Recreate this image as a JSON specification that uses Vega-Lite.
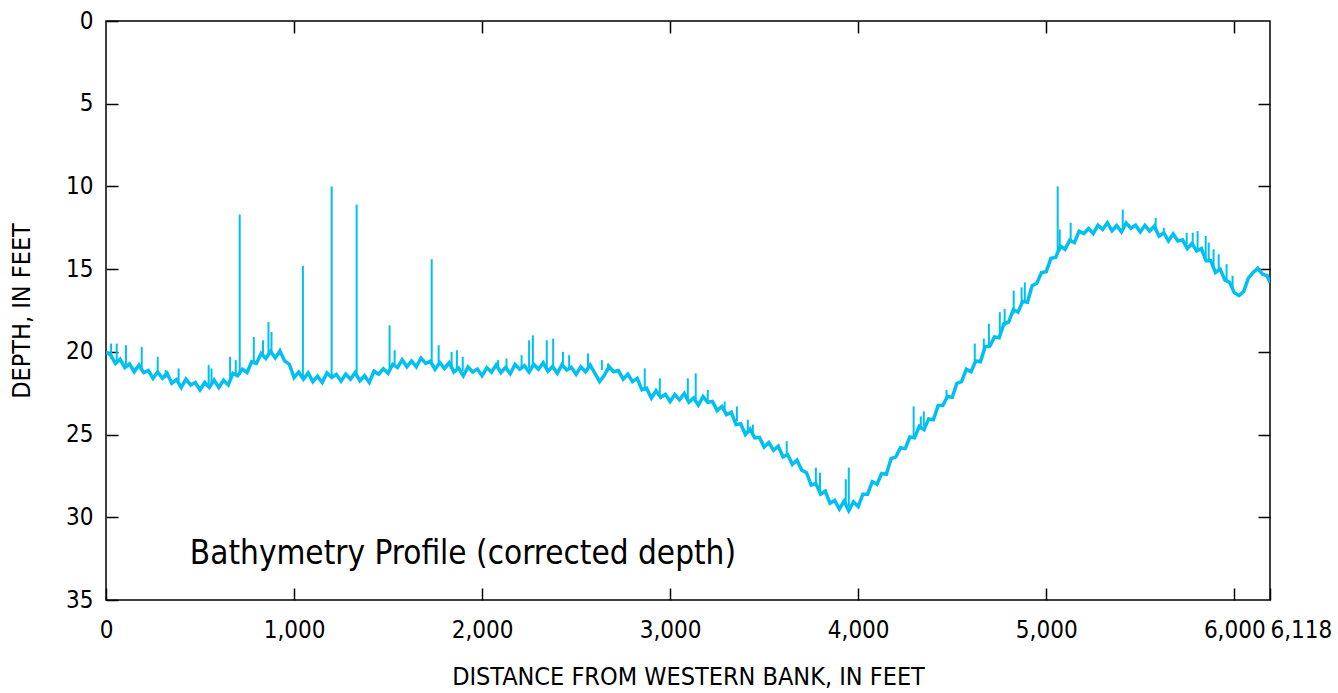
{
  "$schema": "https://vega.github.io/schema/vega-lite/v6.json",
  "width": 1164,
  "height": 579,
  "autosize": "none",
  "padding": {"left": 106, "top": 21, "right": 68, "bottom": 93},
  "background": "white",
  "config": {
    "view": {"stroke": "#000000", "strokeWidth": 1.5},
    "font": "DejaVu Sans Condensed, Liberation Sans, sans-serif",
    "axis": {
      "domain": false,
      "grid": false,
      "tickColor": "#000000",
      "tickWidth": 1.5,
      "tickSize": -12,
      "labelColor": "#000000",
      "labelFont": "DejaVu Sans Condensed, Liberation Sans, sans-serif",
      "labelFontSize": 24,
      "labelFontWeight": "normal",
      "titleColor": "#000000",
      "titleFont": "DejaVu Sans Condensed, Liberation Sans, sans-serif",
      "titleFontSize": 25,
      "titleFontWeight": "normal",
      "labelOverlap": false,
      "labelFlush": false
    }
  },
  "datasets": {
    "profile": [
      {"d":0,"z":20.0},{"d":25,"z":20.2},{"d":50,"z":20.7},{"d":75,"z":20.45},{"d":100,"z":20.95},
      {"d":125,"z":20.72},{"d":150,"z":21.2},{"d":175,"z":20.8},{"d":200,"z":21.25},{"d":225,"z":21.13},
      {"d":250,"z":21.6},{"d":275,"z":21.22},{"d":300,"z":21.6},{"d":325,"z":21.3},{"d":350,"z":21.9},
      {"d":375,"z":21.68},{"d":400,"z":22.15},{"d":425,"z":21.65},{"d":450,"z":22.0},{"d":475,"z":21.85},
      {"d":500,"z":22.3},{"d":525,"z":21.85},{"d":550,"z":22.15},{"d":575,"z":21.7},{"d":600,"z":22.15},
      {"d":625,"z":21.72},{"d":650,"z":22.0},{"d":675,"z":21.3},{"d":700,"z":21.45},{"d":725,"z":21.05},
      {"d":750,"z":21.25},{"d":775,"z":20.6},{"d":800,"z":20.7},{"d":825,"z":20.1},{"d":850,"z":20.4},
      {"d":875,"z":19.97},{"d":900,"z":20.37},{"d":925,"z":19.95},{"d":950,"z":20.55},{"d":975,"z":20.75},
      {"d":1000,"z":21.55},{"d":1025,"z":21.22},{"d":1050,"z":21.65},{"d":1075,"z":21.28},{"d":1100,"z":21.8},
      {"d":1125,"z":21.48},{"d":1150,"z":21.85},{"d":1175,"z":21.27},{"d":1200,"z":21.55},{"d":1225,"z":21.36},
      {"d":1250,"z":21.77},{"d":1275,"z":21.34},{"d":1300,"z":21.65},{"d":1325,"z":21.25},{"d":1350,"z":21.75},
      {"d":1375,"z":21.45},{"d":1400,"z":21.85},{"d":1425,"z":21.17},{"d":1450,"z":21.35},{"d":1475,"z":21.02},
      {"d":1500,"z":21.3},{"d":1525,"z":20.75},{"d":1550,"z":20.95},{"d":1575,"z":20.48},{"d":1600,"z":20.9},
      {"d":1625,"z":20.55},{"d":1650,"z":20.9},{"d":1675,"z":20.37},{"d":1700,"z":20.7},{"d":1725,"z":20.57},
      {"d":1750,"z":21.05},{"d":1775,"z":20.65},{"d":1800,"z":21.0},{"d":1825,"z":20.66},{"d":1850,"z":21.22},
      {"d":1875,"z":20.99},{"d":1900,"z":21.45},{"d":1925,"z":20.91},{"d":1950,"z":21.22},{"d":1975,"z":21.04},
      {"d":2000,"z":21.45},{"d":2025,"z":20.96},{"d":2050,"z":21.22},{"d":2075,"z":20.79},{"d":2100,"z":21.25},
      {"d":2125,"z":20.94},{"d":2150,"z":21.32},{"d":2175,"z":20.76},{"d":2200,"z":21.05},{"d":2225,"z":20.84},
      {"d":2250,"z":21.22},{"d":2275,"z":20.76},{"d":2300,"z":21.05},{"d":2325,"z":20.66},{"d":2350,"z":21.17},
      {"d":2375,"z":20.89},{"d":2400,"z":21.3},{"d":2425,"z":20.77},{"d":2450,"z":21.1},{"d":2475,"z":20.93},
      {"d":2500,"z":21.35},{"d":2525,"z":20.9},{"d":2550,"z":21.2},{"d":2575,"z":20.8},{"d":2600,"z":21.3},
      {"d":2625,"z":21.8},{"d":2650,"z":21.42},{"d":2675,"z":20.89},{"d":2700,"z":21.2},{"d":2725,"z":21.13},
      {"d":2750,"z":21.65},{"d":2775,"z":21.35},{"d":2800,"z":21.8},{"d":2825,"z":21.6},{"d":2850,"z":22.3},
      {"d":2875,"z":22.2},{"d":2900,"z":22.8},{"d":2925,"z":22.35},{"d":2950,"z":22.75},{"d":2975,"z":22.57},
      {"d":3000,"z":23.0},{"d":3025,"z":22.58},{"d":3050,"z":22.9},{"d":3075,"z":22.52},{"d":3100,"z":23.05},
      {"d":3125,"z":22.79},{"d":3150,"z":23.22},{"d":3175,"z":22.71},{"d":3200,"z":23.05},{"d":3225,"z":23.0},
      {"d":3250,"z":23.55},{"d":3275,"z":23.3},{"d":3300,"z":23.8},{"d":3325,"z":23.65},{"d":3350,"z":24.4},
      {"d":3375,"z":24.35},{"d":3400,"z":25.0},{"d":3425,"z":24.67},{"d":3450,"z":25.2},{"d":3475,"z":25.17},
      {"d":3500,"z":25.75},{"d":3525,"z":25.48},{"d":3550,"z":25.95},{"d":3575,"z":25.7},{"d":3600,"z":26.35},
      {"d":3625,"z":26.22},{"d":3650,"z":26.8},{"d":3675,"z":26.55},{"d":3700,"z":27.15},{"d":3725,"z":27.3},
      {"d":3750,"z":28.05},{"d":3775,"z":27.95},{"d":3800,"z":28.6},{"d":3825,"z":28.42},{"d":3850,"z":29.15},
      {"d":3875,"z":28.98},{"d":3900,"z":29.5},{"d":3925,"z":29.03},{"d":3950,"z":29.6},{"d":3975,"z":29.07},
      {"d":4000,"z":29.35},{"d":4025,"z":28.6},{"d":4050,"z":28.6},{"d":4075,"z":27.85},{"d":4100,"z":28.0},
      {"d":4125,"z":27.35},{"d":4150,"z":27.4},{"d":4175,"z":26.45},{"d":4200,"z":26.35},{"d":4225,"z":25.8},
      {"d":4250,"z":25.85},{"d":4275,"z":25.15},{"d":4300,"z":25.2},{"d":4325,"z":24.5},{"d":4350,"z":24.7},
      {"d":4375,"z":24.05},{"d":4400,"z":24.1},{"d":4425,"z":23.25},{"d":4450,"z":23.25},{"d":4475,"z":22.7},
      {"d":4500,"z":22.75},{"d":4525,"z":21.9},{"d":4550,"z":21.8},{"d":4575,"z":21.05},{"d":4600,"z":21.2},
      {"d":4625,"z":20.55},{"d":4650,"z":20.6},{"d":4675,"z":19.7},{"d":4700,"z":19.65},{"d":4725,"z":19.1},
      {"d":4750,"z":19.15},{"d":4775,"z":18.3},{"d":4800,"z":18.2},{"d":4825,"z":17.45},{"d":4850,"z":17.6},
      {"d":4875,"z":16.95},{"d":4900,"z":17.0},{"d":4925,"z":16.0},{"d":4950,"z":15.85},{"d":4975,"z":15.2},
      {"d":5000,"z":15.15},{"d":5025,"z":14.35},{"d":5050,"z":14.3},{"d":5075,"z":13.6},{"d":5100,"z":13.8},
      {"d":5125,"z":13.25},{"d":5150,"z":13.4},{"d":5175,"z":12.7},{"d":5200,"z":12.85},{"d":5225,"z":12.55},
      {"d":5250,"z":12.85},{"d":5275,"z":12.35},{"d":5300,"z":12.6},{"d":5325,"z":12.19},{"d":5350,"z":12.68},
      {"d":5375,"z":12.36},{"d":5400,"z":12.75},{"d":5425,"z":12.21},{"d":5450,"z":12.52},{"d":5475,"z":12.34},
      {"d":5500,"z":12.75},{"d":5525,"z":12.35},{"d":5550,"z":12.7},{"d":5575,"z":12.4},{"d":5600,"z":13.0},
      {"d":5625,"z":12.8},{"d":5650,"z":13.3},{"d":5675,"z":12.87},{"d":5700,"z":13.3},{"d":5725,"z":13.23},
      {"d":5750,"z":13.75},{"d":5775,"z":13.45},{"d":5800,"z":13.9},{"d":5825,"z":13.75},{"d":5850,"z":14.5},
      {"d":5875,"z":14.5},{"d":5900,"z":15.2},{"d":5925,"z":15.0},{"d":5950,"z":15.65},{"d":5975,"z":15.8},
      {"d":6000,"z":16.42},{"d":6025,"z":16.6},{"d":6050,"z":16.35},{"d":6075,"z":15.55},{"d":6100,"z":15.2},
      {"d":6125,"z":14.95},{"d":6150,"z":15.3},{"d":6175,"z":15.4},{"d":6190,"z":15.8}
    ],
    "spikes": [
      {"d":27,"tip":19.5,"base":20.4},{"d":57,"tip":19.5,"base":20.6},{"d":106,"tip":19.6,"base":20.8},
      {"d":190,"tip":19.7,"base":21.2},{"d":275,"tip":20.3,"base":21.4},{"d":317,"tip":21.1,"base":21.6},
      {"d":386,"tip":21.0,"base":21.8},{"d":546,"tip":20.8,"base":22.05},{"d":561,"tip":21.0,"base":22.0},
      {"d":660,"tip":20.3,"base":21.6},{"d":690,"tip":20.5,"base":21.4},{"d":711,"tip":11.7,"base":21.4},
      {"d":786,"tip":19.1,"base":20.7},{"d":835,"tip":19.3,"base":20.3},{"d":864,"tip":18.2,"base":20.1},
      {"d":880,"tip":18.8,"base":20.1},{"d":925,"tip":19.8,"base":20.2},{"d":1047,"tip":14.8,"base":21.5},
      {"d":1200,"tip":10.0,"base":21.5},{"d":1333,"tip":11.1,"base":21.55},{"d":1508,"tip":18.4,"base":21.0},
      {"d":1535,"tip":19.9,"base":20.9},{"d":1732,"tip":14.4,"base":20.7},{"d":1769,"tip":19.6,"base":20.8},
      {"d":1838,"tip":20.0,"base":21.0},{"d":1866,"tip":19.9,"base":21.1},{"d":1897,"tip":20.3,"base":21.15},
      {"d":2085,"tip":20.5,"base":21.1},{"d":2130,"tip":20.4,"base":21.0},{"d":2210,"tip":20.2,"base":21.0},
      {"d":2250,"tip":19.3,"base":21.0},{"d":2270,"tip":19.0,"base":20.95},{"d":2344,"tip":19.3,"base":20.97},
      {"d":2378,"tip":19.2,"base":21.0},{"d":2430,"tip":20.0,"base":21.0},{"d":2463,"tip":20.2,"base":21.05},
      {"d":2563,"tip":20.1,"base":21.1},{"d":2637,"tip":20.5,"base":21.1},{"d":2670,"tip":20.7,"base":21.15},
      {"d":2865,"tip":21.0,"base":22.2},{"d":2945,"tip":21.6,"base":22.7},{"d":3094,"tip":21.6,"base":22.85},
      {"d":3136,"tip":21.3,"base":22.9},{"d":3200,"tip":22.3,"base":23.0},{"d":3290,"tip":23.0,"base":23.6},
      {"d":3355,"tip":23.3,"base":24.2},{"d":3413,"tip":24.1,"base":24.8},{"d":3440,"tip":24.4,"base":25.1},
      {"d":3620,"tip":25.4,"base":26.3},{"d":3775,"tip":27.0,"base":28.15},{"d":3797,"tip":27.3,"base":28.45},
      {"d":3934,"tip":27.7,"base":29.3},{"d":3950,"tip":27.0,"base":29.35},{"d":4295,"tip":23.3,"base":25.1},
      {"d":4333,"tip":23.9,"base":24.7},{"d":4349,"tip":23.6,"base":24.5},{"d":4376,"tip":24.0,"base":24.15},
      {"d":4470,"tip":22.3,"base":22.9},{"d":4620,"tip":19.5,"base":20.7},{"d":4668,"tip":19.2,"base":20.0},
      {"d":4695,"tip":18.3,"base":19.65},{"d":4753,"tip":17.6,"base":18.85},{"d":4779,"tip":17.4,"base":18.45},
      {"d":4827,"tip":16.3,"base":17.7},{"d":4869,"tip":16.1,"base":17.1},{"d":4886,"tip":15.8,"base":16.9},
      {"d":5061,"tip":10.0,"base":14.1},{"d":5072,"tip":12.6,"base":13.9},{"d":5130,"tip":12.2,"base":13.3},
      {"d":5407,"tip":11.4,"base":12.45},{"d":5582,"tip":11.9,"base":12.7},{"d":5625,"tip":12.5,"base":12.9},
      {"d":5747,"tip":12.8,"base":13.5},{"d":5779,"tip":12.8,"base":13.65},{"d":5805,"tip":12.7,"base":13.85},
      {"d":5848,"tip":13.0,"base":14.3},{"d":5864,"tip":13.4,"base":14.45},{"d":5890,"tip":13.8,"base":14.8},
      {"d":5917,"tip":14.1,"base":15.15},{"d":5959,"tip":14.7,"base":15.7},{"d":5991,"tip":15.4,"base":16.2}
    ],
    "note": [
      {"d":446,"z":32.82,"label":"Bathymetry Profile (corrected depth)"}
    ]
  },
  "layer": [
    {
      "data": {"name": "profile"},
      "mark": {"type": "line", "color": "#00BFF3", "strokeWidth": 3.5, "strokeJoin": "miter", "clip": true},
      "encoding": {
        "x": {
          "field": "d", "type": "quantitative",
          "scale": {"domain": [0, 6190], "nice": false, "zero": false},
          "axis": {
            "orient": "bottom",
            "title": "DISTANCE FROM WESTERN BANK, IN FEET",
            "titlePadding": 22,
            "values": [0, 1000, 2000, 3000, 4000, 5000, 6000, 6190],
            "labelExpr": "datum.value > 6100 ? '6,118' : format(datum.value, ',')",
            "labelAlign": {"condition": {"test": "datum.value > 6100", "value": "left"}, "value": "center"},
            "labelPadding": 30
          }
        },
        "y": {
          "field": "z", "type": "quantitative",
          "scale": {"domain": [0, 35], "reverse": true, "nice": false, "zero": false},
          "axis": {
            "orient": "left",
            "title": "DEPTH, IN FEET",
            "titlePadding": 31,
            "values": [0, 5, 10, 15, 20, 25, 30, 35],
            "labelPadding": 25
          }
        }
      }
    },
    {
      "data": {"name": "spikes"},
      "mark": {"type": "rule", "color": "#00BFF3", "strokeWidth": 2},
      "encoding": {
        "x": {
          "field": "d", "type": "quantitative",
          "axis": {"orient": "top", "title": null, "labels": false, "values": [1000, 2000, 3000, 4000, 5000, 6000]}
        },
        "y": {
          "field": "tip", "type": "quantitative",
          "axis": {"orient": "right", "title": null, "labels": false, "values": [5, 10, 15, 20, 25, 30]}
        },
        "y2": {"field": "base"}
      }
    },
    {
      "data": {"name": "note"},
      "mark": {"type": "text", "align": "left", "baseline": "alphabetic", "fontSize": 33, "font": "DejaVu Sans Condensed, Liberation Sans, sans-serif", "color": "#000000"},
      "encoding": {
        "x": {"field": "d", "type": "quantitative", "axis": null},
        "y": {"field": "z", "type": "quantitative", "axis": null},
        "text": {"field": "label"}
      }
    }
  ],
  "resolve": {"axis": {"x": "independent", "y": "independent"}}
}
